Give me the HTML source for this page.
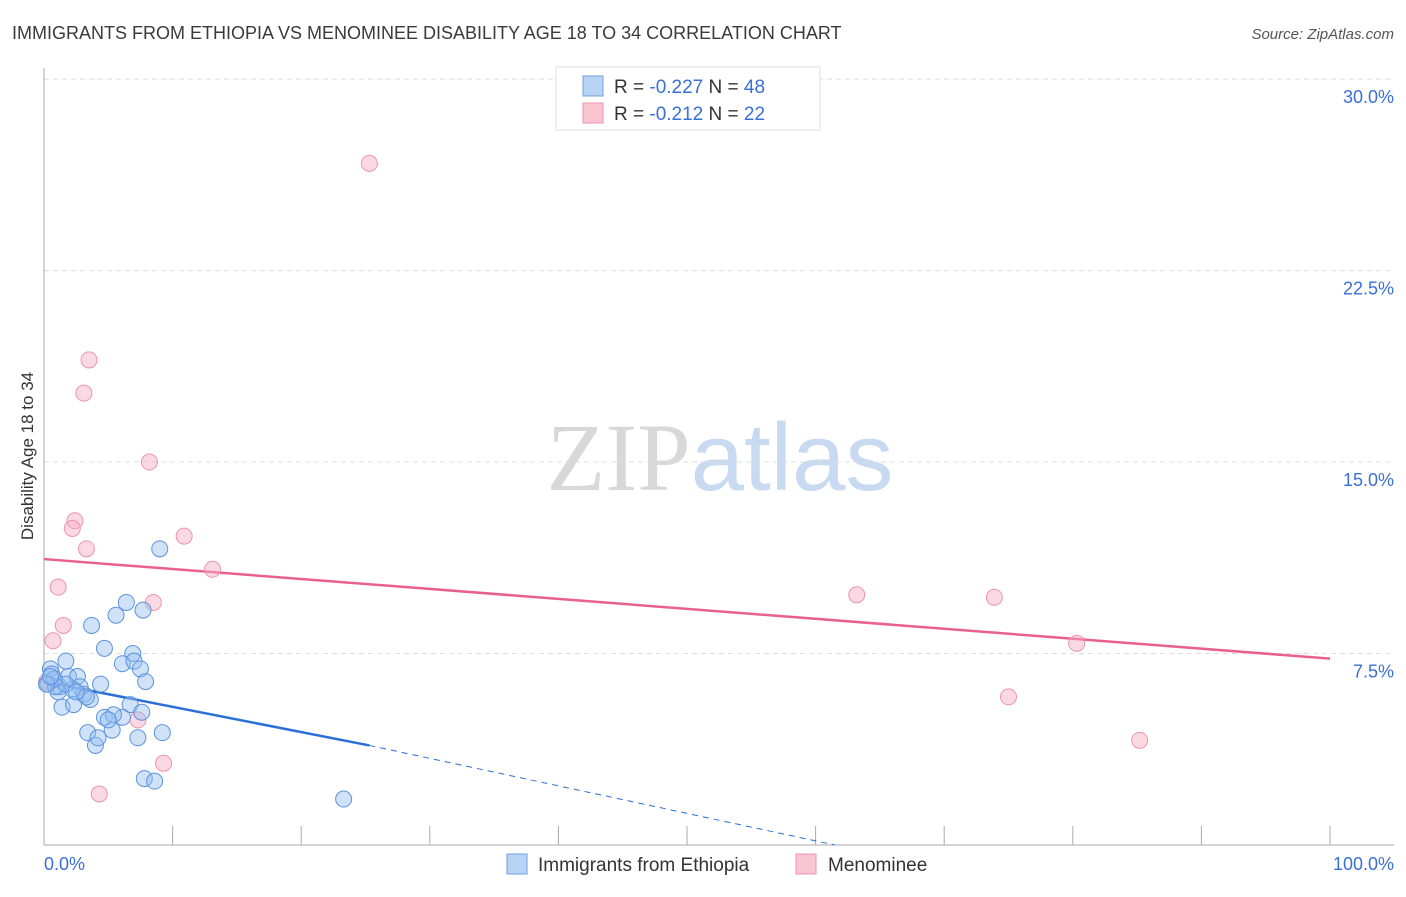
<!DOCTYPE html>
<html><head><meta charset="utf-8"><style>
body{margin:0;background:#fff;font-family:"Liberation Sans",sans-serif}
</style></head><body>
<svg id="chart" width="1406" height="892" xmlns="http://www.w3.org/2000/svg" font-family="Liberation Sans, sans-serif">
<text x="12" y="39" font-size="18" fill="#3a3a3a">IMMIGRANTS FROM ETHIOPIA VS MENOMINEE DISABILITY AGE 18 TO 34 CORRELATION CHART</text>
<text x="1394" y="39" font-size="15" fill="#555" text-anchor="end" font-style="italic">Source: ZipAtlas.com</text>
<text x="720" y="490" font-size="96" text-anchor="middle"><tspan fill="#d8d8d8" font-family="Liberation Serif, serif">ZIP</tspan><tspan fill="#c8daf2">atlas</tspan></text>
<g id="grid"></g><g id="axes"></g><g id="trends"></g><g id="pts"></g>
<text transform="translate(33,456) rotate(-90)" font-size="17" fill="#333" text-anchor="middle">Disability Age 18 to 34</text>
<g>
<rect x="556" y="67" width="264" height="63" fill="#fff" stroke="#ddd"/>
<rect x="583" y="76" width="20" height="20" fill="#b9d3f5" stroke="#6f9fe0"/>
<rect x="583" y="103" width="20" height="20" fill="#f9c5d3" stroke="#ee93ad"/>
<text x="614" y="93" font-size="19" fill="#333">R = <tspan fill="#3a6fd8">-0.227</tspan>   N = <tspan fill="#3a6fd8">48</tspan></text>
<text x="614" y="120" font-size="19" fill="#333">R =  <tspan fill="#3a6fd8">-0.212</tspan>   N =  <tspan fill="#3a6fd8">22</tspan></text>
</g>
<g>
<rect x="507" y="854" width="20" height="20" fill="#b9d3f5" stroke="#6f9fe0"/>
<text x="538" y="871" font-size="19" fill="#333">Immigrants from Ethiopia</text>
<rect x="796" y="854" width="20" height="20" fill="#f9c5d3" stroke="#ee93ad"/>
<text x="828" y="871" font-size="19" fill="#333">Menominee</text>
</g>
</svg>
<script>
const yTicks=[7.5,15,22.5,30];
const yTickLabels=["7.5%","15.0%","22.5%","30.0%"];
const xTickLabels=["0.0%","100.0%"];
const blueX=[9.0,6.4,7.7,5.6,3.7,4.7,1.7,6.9,6.1,7.0,7.5,7.9,0.5,0.6,0.3,1.2,1.9,2.6,2.8,3.1,2.2,3.6,1.4,2.3,4.4,1.1,0.9,6.7,7.6,4.7,5.3,6.1,5.4,3.4,4.0,4.2,7.3,9.2,7.8,8.6,23.3,1.7,0.8,0.2,3.3,2.5,5.0,0.5];
const blueY=[11.6,9.5,9.2,9.0,8.6,7.7,7.2,7.5,7.1,7.2,6.9,6.4,6.9,6.7,6.3,6.2,6.6,6.6,6.2,5.9,6.1,5.7,5.4,5.5,6.3,6.0,6.2,5.5,5.2,5.0,4.5,5.0,5.1,4.4,3.9,4.2,4.2,4.4,2.6,2.5,1.8,6.3,6.5,6.3,5.8,6.0,4.9,6.6];
const pinkX=[25.3,3.5,3.1,8.2,2.4,2.2,3.3,10.9,13.1,1.1,8.5,1.5,0.7,7.3,9.3,4.3,63.2,73.9,80.3,75.0,85.2,0.2];
const pinkY=[26.7,19.0,17.7,15.0,12.7,12.4,11.6,12.1,10.8,10.1,9.5,8.6,8.0,4.9,3.2,2.0,9.8,9.7,7.9,5.8,4.1,6.4];
const pinkTrend=[[0,11.2],[100,7.3]];
const blueTrend=[[0,6.4],[25.3,3.9]];
const blueDash=[[25.3,3.9],[61.5,0]];
const NS="http://www.w3.org/2000/svg";
const X=v=>44+v*12.86, Y=v=>845-v*25.53;
function mk(tag,attrs,parent){const e=document.createElementNS(NS,tag);for(const k in attrs)e.setAttribute(k,attrs[k]);document.getElementById(parent).appendChild(e);return e;}
yTicks.forEach((t,i)=>{
 const l=mk('line',{x1:44,x2:1394,y1:Y(t),y2:Y(t),stroke:'#ddd','stroke-dasharray':'5,4'},'grid');
 
 
 const tx=mk('text',{x:1394,y:Y(t)+24,'font-size':18,fill:'#3a6fd8','text-anchor':'end'},'axes');tx.textContent=yTickLabels[i];
 
 
});
mk('line',{x1:44,x2:44,y1:68,y2:845,stroke:'#aaa'},'axes');
mk('line',{x1:44,x2:1394,y1:845,y2:845,stroke:'#aaa'},'axes');
for(let i=0;i<=10;i++){mk('line',{x1:X(i*10),x2:X(i*10),y1:826,y2:845,stroke:'#aaa'},'axes');}
const xl0=mk('text',{x:44,y:870,'font-size':18,fill:'#3a6fd8'},'axes');xl0.textContent=xTickLabels[0];


const xl1=mk('text',{x:1394,y:870,'font-size':18,fill:'#3a6fd8','text-anchor':'end'},'axes');xl1.textContent=xTickLabels[1];


const pt=mk('line',{x1:X(pinkTrend[0][0]),y1:Y(pinkTrend[0][1]),x2:X(pinkTrend[1][0]),y2:Y(pinkTrend[1][1]),stroke:'#e8608e','stroke-width':2.5},'trends');


const bt=mk('line',{x1:X(blueTrend[0][0]),y1:Y(blueTrend[0][1]),x2:X(blueTrend[1][0]),y2:Y(blueTrend[1][1]),stroke:'#2a6fd8','stroke-width':2.5},'trends');


const bd=mk('line',{x1:X(blueDash[0][0]),y1:Y(blueDash[0][1]),x2:X(blueDash[1][0]),y2:Y(blueDash[1][1]),stroke:'#2a6fd8','stroke-width':1,'stroke-dasharray':'6,5'},'trends');


pinkX.forEach((v,i)=>{const c=mk('circle',{cx:X(v),cy:Y(pinkY[i]),r:8,fill:'rgba(246,170,192,0.45)',stroke:'#ee93ad','stroke-width':1},'pts');
 
 });
blueX.forEach((v,i)=>{const c=mk('circle',{cx:X(v),cy:Y(blueY[i]),r:8,fill:'rgba(150,190,240,0.45)',stroke:'#5b93e0','stroke-width':1},'pts');
 
 });
</script>
</body></html>
